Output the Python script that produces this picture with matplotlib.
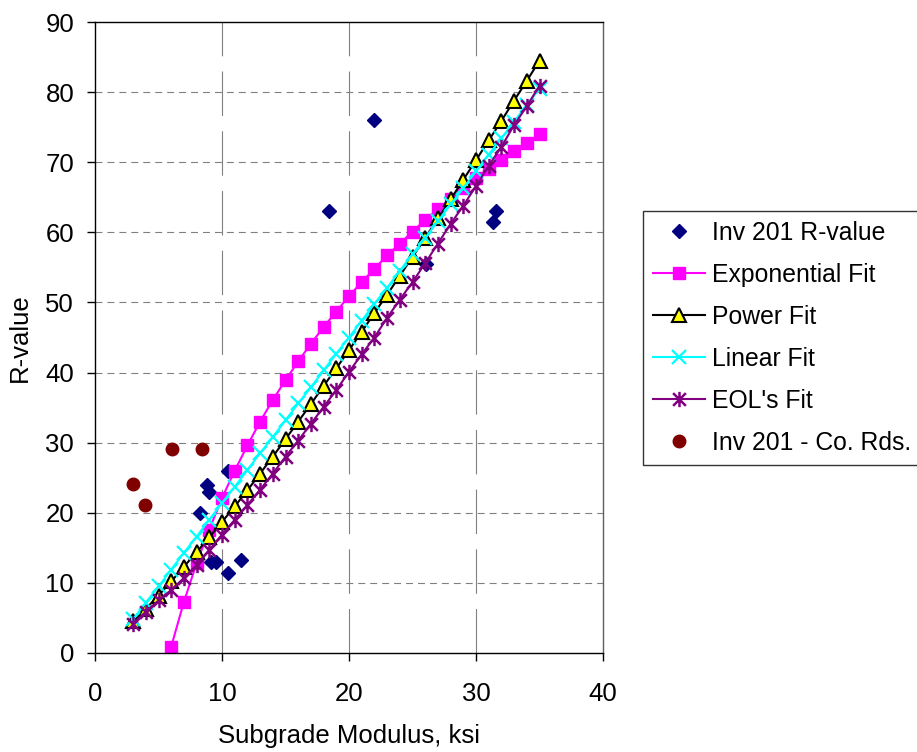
import matplotlib
matplotlib.use('Agg')
import matplotlib.pyplot as plt
import matplotlib.ticker as ticker
from matplotlib.path import Path

plt.rcParams['font.family'] = ['Liberation Sans', 'DejaVu Sans']
plt.rcParams['lines.scale_dashes'] = False

# Inv 201 measured points
inv_x = [22.0, 18.4, 31.6, 31.3, 26.1, 8.8, 9.0, 8.3, 10.5, 9.1, 9.5, 11.5, 10.5]
inv_y = [76.0, 63.0, 63.0, 61.5, 55.5, 24.0, 23.0, 20.0, 26.0, 13.0, 13.0, 13.2, 11.4]

# Inv 201 - County Roads points
co_x = [3.0, 3.9, 6.1, 8.4]
co_y = [24.1, 21.1, 29.1, 29.1]

# fitted curves, evaluated at modulus 3..35 ksi
fit_x = [3, 4, 5, 6, 7, 8, 9, 10, 11, 12, 13, 14, 15, 16, 17, 18, 19, 20,
         21, 22, 23, 24, 25, 26, 27, 28, 29, 30, 31, 32, 33, 34, 35]
exp_fit = [-27.9, -15.9, -6.7, 0.9, 7.3, 12.8, 17.6, 22.1, 26.0, 29.6, 33.0,
           36.1, 38.9, 41.6, 44.1, 46.5, 48.7, 50.9, 52.9, 54.8, 56.7, 58.4,
           60.1, 61.8, 63.3, 64.8, 66.3, 67.7, 69.0, 70.3, 71.6, 72.8, 74.0]
power_fit = [4.5, 6.3, 8.2, 10.2, 12.3, 14.4, 16.5, 18.7, 20.9, 23.2, 25.6,
             28.0, 30.5, 33.0, 35.5, 38.1, 40.6, 43.2, 45.8, 48.5, 51.1, 53.8,
             56.5, 59.2, 62.0, 64.7, 67.5, 70.3, 73.1, 75.9, 78.8, 81.6, 84.5]
linear_fit = [4.8, 7.2, 9.5, 11.9, 14.3, 16.6, 19.0, 21.4, 23.7, 26.1, 28.5,
              30.8, 33.2, 35.6, 37.9, 40.3, 42.7, 45.0, 47.4, 49.8, 52.1, 54.5,
              56.9, 59.2, 61.6, 64.0, 66.3, 68.7, 71.1, 73.4, 75.8, 78.2, 80.5]
eol_fit = [4.2, 5.9, 7.5, 9.0, 10.7, 12.6, 14.7, 16.9, 19.0, 21.1, 23.3,
           25.6, 28.0, 30.3, 32.7, 35.1, 37.5, 40.1, 42.6, 45.0, 47.8, 50.4,
           52.9, 55.6, 58.4, 61.2, 63.8, 66.6, 69.5, 72.2, 75.3, 78.0, 80.9]

fs = 18.5
leg_fs = 17.8

# звёздочка как в Excel: крест + вертикальная черта
star = Path([(-1, -1), (1, 1), (-1, 1), (1, -1), (0, -1.2), (0, 1.2)],
            [Path.MOVETO, Path.LINETO, Path.MOVETO, Path.LINETO,
             Path.MOVETO, Path.LINETO])

fig = plt.figure(figsize=(9.17, 7.52), dpi=100)
ax = fig.add_axes([95 / 917, 1 - 653 / 752, 508 / 917, 631 / 752])

ax.plot(inv_x, inv_y, linestyle='none', marker='D', markersize=7,
        color='#000080', label='Inv 201 R-value')
ax.plot(fit_x, exp_fit, color='#FF00FF', lw=1.5, marker='s', markersize=9,
        label='Exponential Fit')
ax.plot(fit_x, power_fit, color='black', lw=1.5, marker='^', markersize=10,
        markerfacecolor='#FFFF00', markeredgecolor='black', markeredgewidth=1.5,
        label='Power Fit')
ax.plot(fit_x, linear_fit, color='#00FFFF', lw=1.5, marker='x', markersize=10,
        markeredgewidth=1.6, label='Linear Fit')
ax.plot(fit_x, eol_fit, color='#800080', lw=1.5, marker=star, markersize=11,
        markeredgewidth=1.8, label="EOL's Fit")
ax.plot(co_x, co_y, linestyle='none', marker='o', markersize=9,
        color='#800000', label='Inv 201 - Co. Rds.')

# Устанавливаем границы и деления осей:
ax.set_xlim(0, 40)
ax.set_ylim(0, 90)
ax.xaxis.set_major_locator(ticker.MultipleLocator(10))
ax.yaxis.set_major_locator(ticker.MultipleLocator(10))

# сетка: горизонтальная штриховая, вертикальная длинные штрихи
for y in range(10, 90, 10):
    ax.axhline(y, color='#808080', lw=0.8, linestyle=(0, (5, 3.6)), zorder=0)
for x in range(10, 40, 10):
    ax.axvline(x, color='#808080', lw=0.8, linestyle=(0, (32, 11)), zorder=0)

for s in ['left', 'bottom', 'top']:
    ax.spines[s].set_color('black')
    ax.spines[s].set_linewidth(1.0)
ax.spines['right'].set_color('#606060')
ax.spines['right'].set_linewidth(1.0)

ax.tick_params(axis='both', direction='out', length=6, width=1, labelsize=fs)
ax.tick_params(axis='x', pad=15)
ax.tick_params(axis='y', pad=9)

ax.set_xlabel('Subgrade Modulus, ksi', fontsize=fs, labelpad=13)
ax.set_ylabel('R-value', fontsize=fs, labelpad=10)

leg = fig.legend(*ax.get_legend_handles_labels(), loc='upper left',
                 bbox_to_anchor=(643 / 917, 1 - 211 / 752), borderaxespad=0,
                 fontsize=leg_fs, frameon=True, fancybox=False, handlelength=2.1,
                 handletextpad=0.28, labelspacing=0.73, borderpad=0.4,
                 numpoints=1)
leg.get_frame().set_edgecolor('black')
leg.get_frame().set_linewidth(1.0)

fig.savefig('out.png', dpi=100)
